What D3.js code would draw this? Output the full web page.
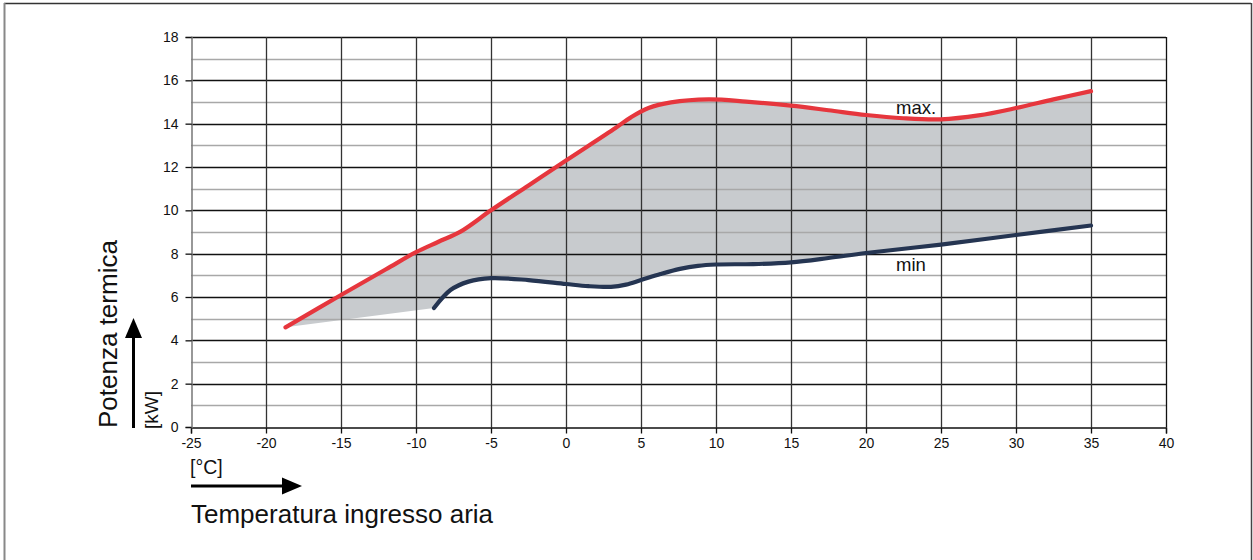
<!DOCTYPE html>
<html>
<head>
<meta charset="utf-8">
<script src="https://cdn.jsdelivr.net/npm/d3@7"></script>
<style>
  html, body { margin: 0; padding: 0; background: #fff; }
  svg { display: block; font-family: "Liberation Sans", Arial, sans-serif; }
</style>
</head>
<body>
<svg id="chart" width="1253" height="560"></svg>
<script>
// Heating capacity envelope vs. inlet air temperature
const maxTemp = [-18.7, -15, -12, -10, -8.5, -7, -5, -2.5, 0, 3.3, 4.3, 5.5, 7, 9.5, 12, 15, 17.5, 20, 22.5, 25, 27.5, 30, 32.5, 35];
const maxPower = [4.6, 6.09, 7.28, 8.07, 8.55, 9.03, 10.0, 11.15, 12.3, 13.8, 14.28, 14.72, 14.98, 15.12, 15.02, 14.83, 14.62, 14.4, 14.25, 14.2, 14.38, 14.72, 15.12, 15.5];
const minTemp = [-8.8, -7.7, -6.5, -5, -2.5, 0, 1.5, 3, 4, 5, 6.3, 7.6, 8.8, 10, 12.5, 15, 17.5, 20, 25, 30, 35];
const minPower = [5.49, 6.32, 6.71, 6.87, 6.78, 6.6, 6.5, 6.47, 6.57, 6.78, 7.06, 7.3, 7.44, 7.5, 7.52, 7.6, 7.8, 8.03, 8.42, 8.86, 9.3];
const xTicks = [-25, -20, -15, -10, -5, 0, 5, 10, 15, 20, 25, 30, 35, 40];
const yTicks = [0, 2, 4, 6, 8, 10, 12, 14, 16, 18];
const yMinorLines = [1, 3, 5, 7, 9, 11, 13, 15, 17];

const svg = d3.select("#chart");
const plot = { left: 191, right: 1166, top: 37, bottom: 427 };

const x = d3.scaleLinear().domain([-25, 40]).range([plot.left, plot.right]);
const y = d3.scaleLinear().domain([0, 18]).range([plot.bottom, plot.top]);

// outer frame
svg.append("line").attr("x1", 4).attr("x2", 1251).attr("y1", 3.5).attr("y2", 3.5).attr("stroke", "#333").attr("stroke-width", 1.5);
svg.append("line").attr("x1", 4.5).attr("x2", 4.5).attr("y1", 3).attr("y2", 560).attr("stroke", "#888").attr("stroke-width", 2);
svg.append("line").attr("x1", 1251.5).attr("x2", 1251.5).attr("y1", 3).attr("y2", 560).attr("stroke", "#444").attr("stroke-width", 1.5);

const maxPts = maxTemp.map((t, i) => [x(t), y(maxPower[i])]);
const minPts = minTemp.map((t, i) => [x(t), y(minPower[i])]);

const curve = d3.line().curve(d3.curveCatmullRom.alpha(0.5));

// shaded operating field
const upperPath = curve(maxPts);
const lowerPath = curve(minPts.slice().reverse()).replace(/^M/, "L");
svg.append("path")
  .attr("d", upperPath + lowerPath + "Z")
  .attr("fill", "#c8cbce");

// grid
const grid = svg.append("g");
grid.selectAll(".hmin").data(yMinorLines).join("line")
  .attr("x1", plot.left).attr("x2", plot.right)
  .attr("y1", d => Math.round(y(d)) + 0.5).attr("y2", d => Math.round(y(d)) + 0.5)
  .attr("stroke", "#a8a8a8").attr("stroke-width", 1.3);
grid.selectAll(".hmaj").data(yTicks.filter(d => d > 0)).join("line")
  .attr("x1", plot.left).attr("x2", plot.right)
  .attr("y1", d => Math.round(y(d)) + 0.5).attr("y2", d => Math.round(y(d)) + 0.5)
  .attr("stroke", "#111").attr("stroke-width", 1.3);
grid.selectAll(".v").data(xTicks.filter(d => d > -25)).join("line")
  .attr("x1", d => Math.round(x(d)) + 0.5).attr("x2", d => Math.round(x(d)) + 0.5)
  .attr("y1", plot.top).attr("y2", plot.bottom)
  .attr("stroke", d => d === 40 ? "#111" : "#333").attr("stroke-width", 1.3);

// axes
const xAxis = d3.axisBottom(x).tickValues(xTicks).tickSize(6).tickPadding(5);
const gx = svg.append("g").attr("transform", `translate(0,${plot.bottom + 0.5})`).call(xAxis);
gx.select(".domain").attr("stroke", "#111").attr("stroke-width", 1.3);
gx.selectAll(".tick line").attr("stroke", "#111").attr("stroke-width", 1.3);
gx.selectAll("text").attr("font-size", 14).attr("fill", "#111")
  .attr("font-family", "Liberation Sans, Arial, sans-serif").text(d => d < 0 ? "-" + Math.abs(d) : d);

const yAxis = d3.axisLeft(y).tickValues(yTicks).tickSize(6).tickPadding(7);
const gy = svg.append("g").attr("transform", `translate(${plot.left + 0.5},0)`).call(yAxis);
gy.select(".domain").attr("stroke", "#777").attr("stroke-width", 1.5);
gy.selectAll(".tick line").attr("stroke", "#111").attr("stroke-width", 1.3);
gy.selectAll("text").attr("font-size", 14).attr("fill", "#111")
  .attr("font-family", "Liberation Sans, Arial, sans-serif");

// curves
svg.append("path").attr("d", curve(minPts))
  .attr("fill", "none").attr("stroke", "#253552").attr("stroke-width", 4.2)
  .attr("stroke-linecap", "round").attr("stroke-linejoin", "round");
svg.append("path").attr("d", curve(maxPts))
  .attr("fill", "none").attr("stroke", "#e6363d").attr("stroke-width", 4.2)
  .attr("stroke-linecap", "round").attr("stroke-linejoin", "round");

// curve labels
svg.append("text").attr("x", 896).attr("y", 114).attr("font-size", 18.5).attr("fill", "#111").text("max.");
svg.append("text").attr("x", 896).attr("y", 271).attr("font-size", 18.5).attr("fill", "#111").text("min");

// y axis title with arrow
svg.append("text").attr("transform", "translate(117,428) rotate(-90)")
  .attr("font-size", 26).attr("fill", "#111").text("Potenza termica");
svg.append("text").attr("transform", "translate(157.5,429) rotate(-90)")
  .attr("font-size", 19).attr("fill", "#111").text("[kW]");
svg.append("line").attr("x1", 133.5).attr("x2", 133.5).attr("y1", 428).attr("y2", 336)
  .attr("stroke", "#000").attr("stroke-width", 3);
svg.append("path").attr("d", "M133.5,318 L125,338 L142,338 Z").attr("fill", "#000");

// x axis title with arrow
svg.append("text").attr("x", 190).attr("y", 474).attr("font-size", 19.5).attr("fill", "#111").text("[°C]");
svg.append("line").attr("x1", 191).attr("x2", 284).attr("y1", 486).attr("y2", 486)
  .attr("stroke", "#000").attr("stroke-width", 3);
svg.append("path").attr("d", "M302,486 L282,477.5 L282,494.5 Z").attr("fill", "#000");
svg.append("text").attr("x", 191).attr("y", 523).attr("font-size", 26).attr("fill", "#111").text("Temperatura ingresso aria");
</script>
</body>
</html>
